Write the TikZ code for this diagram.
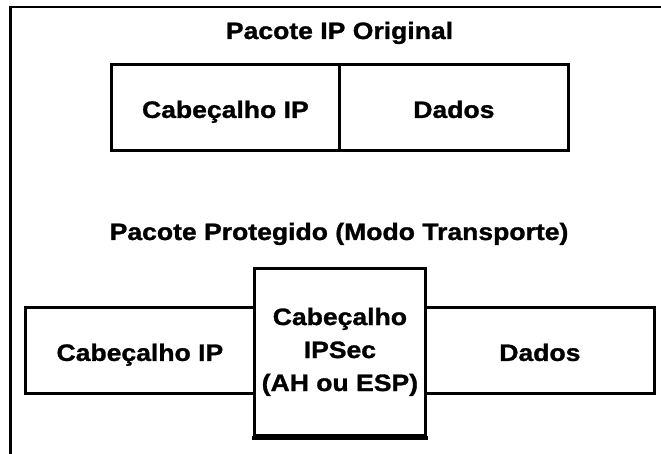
\documentclass[tikz,border=0pt]{standalone}
\usepackage{fontspec}
\setmainfont{Liberation Sans}[FakeStretch=1.12, BoldFeatures={FakeBold=1.2}]
\begin{document}
\begin{tikzpicture}[x=1pt,y=-1pt,
  lbl/.style={font=\bfseries\fontsize{23.7}{33}\selectfont, text=black},
  title/.style={lbl, anchor=base, inner sep=0pt},
  field/.style={lbl, draw=black, line width=2.8pt, inner sep=0pt,
    anchor=north west, text height=21pt, text depth=0pt},
  tall/.style={lbl, draw=black, line width=2.8pt, inner sep=0pt,
    anchor=north west, align=center}
]
\useasboundingbox[fill=white] (0,0) rectangle (661,454);

% frame along the top and left edge
\coordinate (fbl) at (10.6,455);
\coordinate (ftl) at (10.6,7);
\coordinate (ftr) at (662,7);
\draw[line width=2.8pt] (fbl) -- (ftl) -- (ftr);

% original packet
\node[title] (t1) at (339.5,39) {Pacote IP Original};
\node[field, minimum width=228pt, minimum height=86pt] (ip1) at (110,63) {Cabeçalho IP};
\node[field, minimum width=229pt, minimum height=86pt] (d1) at (338,63) {Dados};

% protected packet (transport mode)
\node[title] (t2) at (339,240) {Pacote Protegido (Modo Transporte)};
\node[field, minimum width=229pt, minimum height=86pt] (ip2) at (24,306) {Cabeçalho IP};
\node[field, minimum width=229pt, minimum height=86pt] (d2) at (424,306) {Dados};
\node[tall, minimum width=171pt, minimum height=167pt, fill=white] (sec) at (253,267)
  {Cabeçalho\\IPSec\\(AH ou ESP)};
\draw[line width=4.5pt] ([xshift=-1.4pt,yshift=-1pt]sec.south west) -- ([xshift=1.4pt,yshift=-1pt]sec.south east);
\end{tikzpicture}
\end{document}
